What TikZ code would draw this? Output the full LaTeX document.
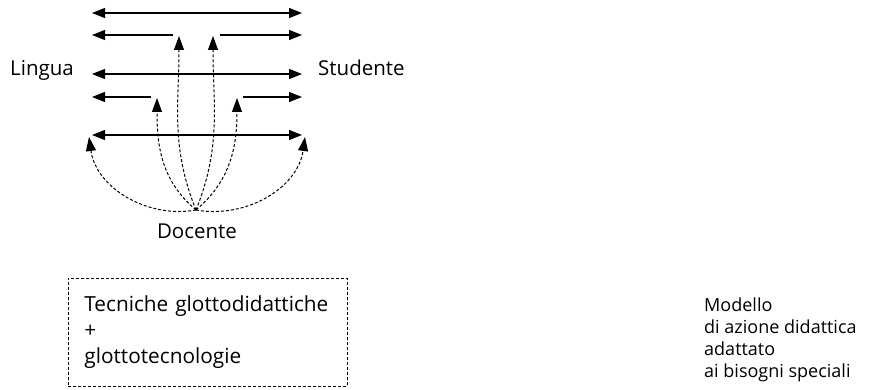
\documentclass[tikz,border=0pt]{standalone}
\usepackage{fontspec}
\setmainfont{Open Sans}
\usetikzlibrary{arrows.meta, positioning}

\begin{document}
\begin{tikzpicture}
   [
      x=1pt, y=-1pt,
      every node/.style={font=\fontsize{20.5}{26}\selectfont, inner sep=0pt},
      link/.style={line width=1.3pt, {Triangle[length=13pt, width=10pt]}-{Triangle[length=13pt, width=10pt]}},
      half link/.style={line width=1.3pt, -{Triangle[length=13pt, width=10pt]}},
      influence/.style={line width=1pt, dash pattern=on 3pt off 2pt, -{Triangle[length=14pt, width=10pt]}},
      box/.style={draw, line width=0.8pt, dash pattern=on 3pt off 2pt, anchor=north west, align=left,
                  font=\fontsize{20.8}{26}\selectfont,
                  text width=247pt, minimum width=279pt, minimum height=108pt, inner xsep=16pt},
   ]
   \useasboundingbox (0,0) rectangle (873,390);

   % =======================================================
   % Actors
   % =======================================================

   \node[anchor=base west] (lingua) at (10,76) {Lingua};
   \node[anchor=base west] (studente) at (318,76) {Studente};
   \node[anchor=base] (docente) at (197,239) {Docente};

   % =======================================================
   % Ends of the arrows
   % =======================================================

   \foreach \i/\y in {1/13, 2/35, 3/74, 4/97, 5/135} {
      \coordinate (L\i) at (92,\y);
      \coordinate (R\i) at (302,\y);
   }
   \coordinate (M2l) at (173,35);
   \coordinate (M2r) at (220,35);
   \coordinate (M4l) at (151,97);
   \coordinate (M4r) at (243,97);

   \coordinate (src) at (196,210);
   \coordinate (T1) at (89,137);
   \coordinate (T2) at (157,98);
   \coordinate (T3) at (179,36);
   \coordinate (T4) at (213,36);
   \coordinate (T5) at (237,98);
   \coordinate (T6) at (305,137);

   % =======================================================
   % Horizontal arrows
   % =======================================================

   \draw[link] (L1) -- (R1);
   \draw[link] (L3) -- (R3);
   \draw[link] (L5) -- (R5);

   \draw[half link] (M2l) -- (L2);
   \draw[half link] (M2r) -- (R2);
   \draw[half link] (M4l) -- (L4);
   \draw[half link] (M4r) -- (R4);

   % =======================================================
   % Dashed arrows from Docente
   % =======================================================

   \draw[influence] (src) to[out=190, in=-82] (T1);
   \draw[influence] (src) to[out=140, in=-90] (T2);
   \draw[influence] (src) to[out=112, in=-90] (T3);
   \draw[influence] (src) to[out=68, in=-90] (T4);
   \draw[influence] (src) to[out=40, in=-90] (T5);
   \draw[influence] (src) to[out=-10, in=-98] (T6);

   % =======================================================
   % Bottom
   % =======================================================

   \node[box] (tecniche) at (68,278) {Tecniche glottodidattiche\\+\\glottotecnologie};
   \node[anchor=north west, align=left, font=\fontsize{18}{22}\selectfont] (modello) at (704,297.5)
      {Modello\\di azione didattica\\adattato\\ai bisogni speciali};

\end{tikzpicture}
\end{document}
